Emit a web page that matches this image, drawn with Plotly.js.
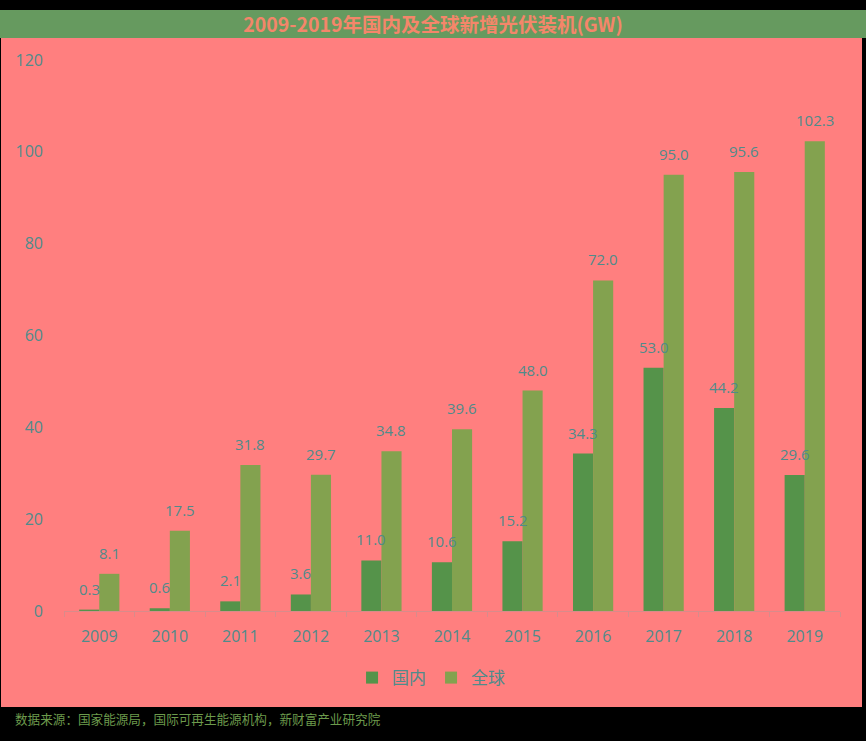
<!DOCTYPE html>
<html>
<head>
<meta charset="utf-8">
<script src="https://cdn.plot.ly/plotly-3.0.1.min.js"></script>
<style>
  body { margin: 0; background: #000; width: 866px; height: 741px; position: relative; overflow: hidden; }
  #title {
    position: absolute; left: 0; top: 10px; width: 866px; height: 28px;
    background: #669a5f; color: #f4866a; text-align: center;
    font: bold 19.5px "Noto Sans CJK SC", sans-serif; line-height: 28px;
  }
  #chart { position: absolute; left: 1px; top: 38px; width: 861px; height: 669px; }
  #source {
    position: absolute; left: 15px; top: 709px;
    color: #6c9a4c; font: 12.6px "Noto Sans CJK SC", sans-serif;
  }
</style>
</head>
<body>
<div id="title">2009-2019年国内及全球新增光伏装机(GW)</div>
<div id="chart"></div>
<div id="source">数据来源：国家能源局，国际可再生能源机构，新财富产业研究院</div>
<script>
/* ─── 2009-2019 新增光伏装机 ─── */

const years = ['2009', '2010', '2011', '2012', '2013', '2014', '2015', '2016', '2017', '2018', '2019'];
const domestic = [0.3, 0.6, 2.1, 3.6, 11.0, 10.6, 15.2, 34.3, 53.0, 44.2, 29.6];
const globalAdds = [8.1, 17.5, 31.8, 29.7, 34.8, 39.6, 48.0, 72.0, 95.0, 95.6, 102.3];

const TEXT_COLOR = '#4f8b8b';
const FONT = 'Open Sans, "Noto Sans CJK SC", sans-serif';

const barTrace = (name, values, color) => ({
    x: years,
    y: values,
    type: 'bar',
    name: name,
    marker: { color: color },
    hoverinfo: 'none',
});

const traces = [
    barTrace('国内', domestic, '#55934a'),
    barTrace('全球', globalAdds, '#83a24f'),
];

// value labels sit ~9px above each bar; x is the category index, shifted half a bar
const labels = (values, shift) => values.map((v, i) => ({
    x: i,
    y: v,
    text: v.toFixed(1),
    showarrow: false,
    xanchor: 'center',
    yanchor: 'bottom',
    xshift: shift,
    yshift: 9,
    font: { color: TEXT_COLOR, size: 15, family: FONT },
}));

const layout = {
    width: 861,
    height: 669,
    paper_bgcolor: '#ff7f7f',
    plot_bgcolor: '#ff7f7f',
    margin: { l: 63, r: 22, t: 22, b: 96, autoexpand: false },
    barmode: 'group',
    bargap: 0.43,
    bargroupgap: 0,
    font: { family: FONT, color: TEXT_COLOR },
    xaxis: {
        type: 'category',
        categoryorder: 'array',
        categoryarray: years,
        range: [-0.5, years.length - 0.5],
        automargin: false,
        showline: true,
        linecolor: '#d98b8b',
        linewidth: 1,
        ticks: 'outside',
        tickson: 'boundaries',
        ticklen: 5,
        tickcolor: '#d98b8b',
        tickfont: { size: 16, color: TEXT_COLOR },
        ticklabelstandoff: 11,
    },
    yaxis: {
        range: [0, 120],
        dtick: 20,
        automargin: false,
        showgrid: false,
        zeroline: false,
        showline: false,
        tickfont: { size: 16, color: TEXT_COLOR },
        ticklabelstandoff: 20,
    },
    annotations: [...labels(domestic, -10), ...labels(globalAdds, 10)],
    showlegend: true,
    legend: {
        orientation: 'h',
        x: 0.473,
        xanchor: 'center',
        y: -0.089,
        yanchor: 'top',
        itemwidth: 30,
        font: { size: 17, color: TEXT_COLOR, family: '"Noto Sans CJK SC", sans-serif' },
        bgcolor: 'rgba(0,0,0,0)',
    },
};

Plotly.newPlot('chart', traces, layout, { displayModeBar: false, staticPlot: true });
</script>
</body>
</html>
